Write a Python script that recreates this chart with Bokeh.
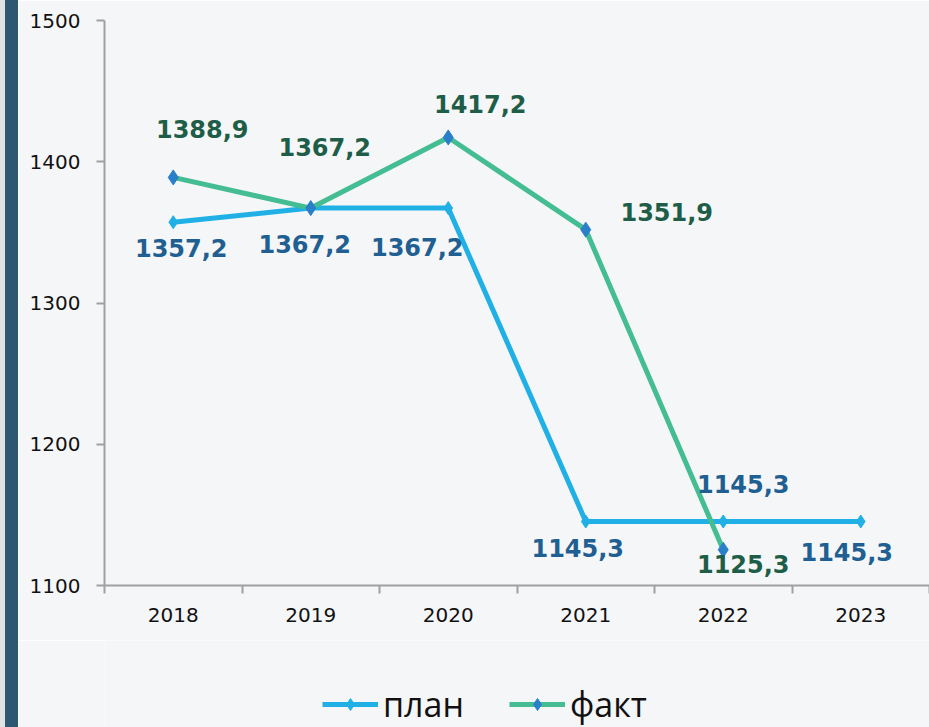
from bokeh.plotting import figure
from bokeh.models import (ColumnDataSource, Range1d, LinearAxis, FixedTicker, Legend,
                          LegendItem, Div)
from bokeh.layouts import row, column
from bokeh.core.properties import value
from bokeh.embed import file_html
from bokeh.resources import INLINE

# ---- data ----
years = ["2018", "2019", "2020", "2021", "2022", "2023"]
plan = [1357.2, 1367.2, 1367.2, 1145.3, 1145.3, 1145.3]
fact = [1388.9, 1367.2, 1417.2, 1351.9, 1125.3]
plan_labels = ["1357,2", "1367,2", "1367,2", "1145,3", "1145,3", "1145,3"]
fact_labels = ["1388,9", "1367,2", "1417,2", "1351,9", "1125,3"]
y_ticks = [1100, 1200, 1300, 1400, 1500]
series_names = ["план", "факт"]

# ---- layout / style (label offsets in screen px, +down) ----
plan_dx = [8, -6, -31, -8, 20, -14]
plan_dy = [26, 36, 39, 26, -38, 30]
fact_dx = [29, 14, 32, 81, 20]
fact_dy = [-48, -61, -33, -18, 14]

PLAN_C = "#20b0e6"
FACT_C = "#45bd92"
FACT_M = "#2a7fcb"
PLAN_T = "#1f5f91"
FACT_T = "#1e5e48"
BG = "#f5f6f8"
AX = "#a0a0a0"

xpos = [i + 0.5 for i in range(len(years))]

p = figure(width=911, height=640, output_backend="svg", toolbar_location=None,
           x_range=Range1d(0, len(years)), y_range=Range1d(1100, 1500),
           x_axis_type=None, y_axis_type=None,
           min_border_left=86, min_border_right=0, min_border_top=20, min_border_bottom=55)
p.background_fill_color = BG
p.border_fill_color = BG
p.outline_line_color = None
p.xgrid.visible = False
p.ygrid.visible = False

xaxis = LinearAxis(ticker=FixedTicker(ticks=xpos, minor_ticks=list(range(len(years) + 1))),
                   major_label_overrides={x: y for x, y in zip(xpos, years)})
xaxis.major_tick_line_color = None
xaxis.minor_tick_line_color = AX
xaxis.minor_tick_line_width = 2
xaxis.minor_tick_in = 0
xaxis.minor_tick_out = 8
xaxis.axis_line_color = AX
xaxis.axis_line_width = 2
xaxis.major_label_text_font = "DejaVu Sans"
xaxis.major_label_text_font_size = "20px"
xaxis.major_label_text_color = "#111111"
xaxis.major_label_standoff = 14
p.add_layout(xaxis, "below")

yaxis = LinearAxis(ticker=FixedTicker(ticks=y_ticks))
yaxis.axis_line_color = AX
yaxis.axis_line_width = 2
yaxis.major_tick_line_color = AX
yaxis.major_tick_line_width = 2
yaxis.major_tick_in = 0
yaxis.major_tick_out = 8
yaxis.minor_tick_line_color = None
yaxis.major_label_text_font = "DejaVu Sans"
yaxis.major_label_text_font_size = "20px"
yaxis.major_label_text_color = "#111111"
yaxis.major_label_standoff = 16
p.add_layout(yaxis, "left")

ps = ColumnDataSource(dict(x=xpos, y=plan, t=plan_labels, dx=plan_dx, dy=plan_dy))
fs = ColumnDataSource(dict(x=xpos[:len(fact)], y=fact, t=fact_labels, dx=fact_dx, dy=fact_dy))

pl = p.line("x", "y", source=ps, line_color=PLAN_C, line_width=5)
pm = p.scatter("x", "y", source=ps, marker="diamond", size=13, color=PLAN_C)
fl = p.line("x", "y", source=fs, line_color=FACT_C, line_width=5)
fm = p.scatter("x", "y", source=fs, marker="diamond", size=15, color=FACT_M)

p.text("x", "y", text="t", source=ps, x_offset="dx", y_offset="dy",
       text_font=value("DejaVu Sans"), text_font_style="bold", text_font_size="24px",
       text_color=PLAN_T, text_align="center", text_baseline="middle")
p.text("x", "y", text="t", source=fs, x_offset="dx", y_offset="dy",
       text_font=value("DejaVu Sans"), text_font_style="bold", text_font_size="24px",
       text_color=FACT_T, text_align="center", text_baseline="middle")

# ---- legend strip below the chart ----
p2 = figure(width=911, height=87, output_backend="svg", toolbar_location=None,
            x_range=Range1d(0, 1), y_range=Range1d(0, 1),
            x_axis_type=None, y_axis_type=None,
            min_border_left=0, min_border_right=0, min_border_top=0, min_border_bottom=0)
p2.background_fill_color = BG
p2.border_fill_color = BG
p2.outline_line_color = None
p2.xgrid.visible = False
p2.ygrid.visible = False
nan = float("nan")
lpl = p2.line(x=[nan], y=[nan], line_color=PLAN_C, line_width=5)
lpm = p2.scatter(x=[nan], y=[nan], marker="diamond", size=13, color=PLAN_C)
lfl = p2.line(x=[nan], y=[nan], line_color=FACT_C, line_width=5)
lfm = p2.scatter(x=[nan], y=[nan], marker="diamond", size=15, color=FACT_M)

legend = Legend(items=[LegendItem(label=series_names[0], renderers=[lpl, lpm]),
                       LegendItem(label=series_names[1], renderers=[lfl, lfm])],
                location=(218, 0), orientation="horizontal", padding=0, margin=0,
                glyph_width=56, glyph_height=30, label_standoff=5, spacing=45,
                label_text_font="Open Sans", label_text_font_size="34px",
                label_text_color="#111111",
                background_fill_alpha=0, border_line_alpha=0)
p2.add_layout(legend, "center")

bar = Div(width=18, height=727, margin=0,
          styles={"background": "linear-gradient(to right, #dfe3e6 0px, #dfe3e6 5px, #2e5872 5px, #2e5872 18px)"})
layout = row(bar, column(p, p2, spacing=0), spacing=0)

open("out.html", "w").write(file_html(layout, INLINE))
